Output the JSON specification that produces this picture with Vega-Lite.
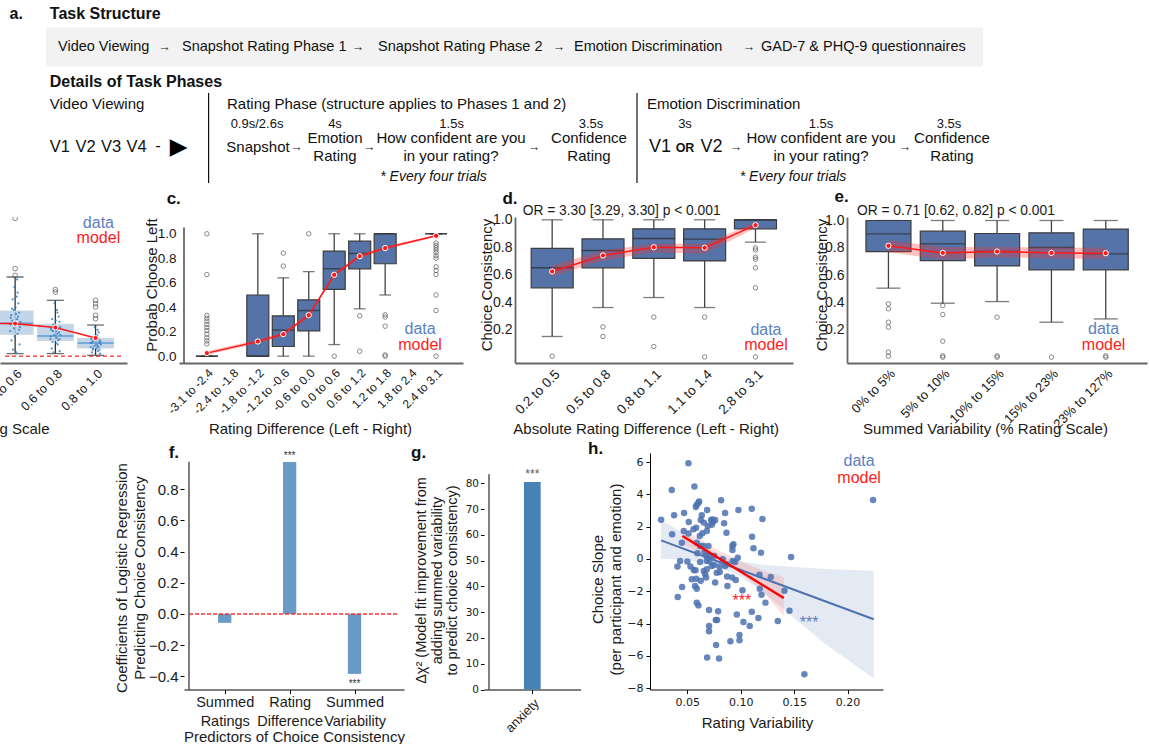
{
"$schema":"https://vega.github.io/schema/vega-lite/v6.json",
"padding":{"left":-36,"top":0,"right":0,"bottom":0},
"background":"white",
"spacing":2,
"config":{"view":{"stroke":null},"font":"Liberation Sans","axis":{"grid":false,"labelOverlap":false,"labelFont":"Liberation Sans","titleFont":"Liberation Sans","titleFontWeight":"normal","labelColor":"#1a1a1a","titleColor":"#1a1a1a","tickColor":"#000","domainColor":"#000"}},
"datasets":{
"rowA":[
{"k":"box","x":46,"x2":983,"y":27.5,"y2":66.5},
{"k":"vline","x":208.6,"y":93,"y2":183},{"k":"vline","x":637,"y":93,"y2":183},
{"k":"bold","x":9.6,"y":14,"t":"a."},{"k":"bold","x":49.8,"y":14,"t":"Task Structure"},{"k":"bold","x":49.8,"y":81.5,"t":"Details of Task Phases"},
{"k":"flow","x":58,"y":47,"t":"Video Viewing"},{"k":"flow","x":182,"y":47,"t":"Snapshot Rating Phase 1"},{"k":"flow","x":378,"y":47,"t":"Snapshot Rating Phase 2"},{"k":"flow","x":574,"y":47,"t":"Emotion Discrimination"},{"k":"flow","x":761,"y":47,"t":"GAD-7 & PHQ-9 questionnaires"},
{"k":"arrow","x":164.6,"y":47,"t":"→"},{"k":"arrow","x":358,"y":47,"t":"→"},{"k":"arrow","x":559,"y":47,"t":"→"},{"k":"arrow","x":749,"y":47,"t":"→"},
{"k":"arrow","x":296.6,"y":147,"t":"→"},{"k":"arrow","x":369.3,"y":147,"t":"→"},{"k":"arrow","x":534,"y":147,"t":"→"},{"k":"arrow","x":736,"y":147,"t":"→"},{"k":"arrow","x":905,"y":147,"t":"→"},
{"k":"sec","x":49.8,"y":104,"t":"Video Viewing"},{"k":"sec","x":227,"y":104,"t":"Rating Phase (structure applies to Phases 1 and 2)"},{"k":"sec","x":647,"y":104,"t":"Emotion Discrimination"},
{"k":"time","x":257,"y":123.5,"t":"0.9s/2.6s"},{"k":"time","x":335,"y":123.5,"t":"4s"},{"k":"time","x":451.6,"y":123.5,"t":"1.5s"},{"k":"time","x":591,"y":123.5,"t":"3.5s"},{"k":"time","x":685,"y":123.5,"t":"3s"},{"k":"time","x":821,"y":123.5,"t":"1.5s"},{"k":"time","x":949,"y":123.5,"t":"3.5s"},
{"k":"big","x":258,"y":147,"t":"Snapshot"},{"k":"big","x":335,"y":137.5,"t":"Emotion"},{"k":"big","x":335,"y":156,"t":"Rating"},{"k":"big","x":451,"y":137.5,"t":"How confident are you"},{"k":"big","x":451,"y":156,"t":"in your rating?"},{"k":"big","x":589,"y":137.5,"t":"Confidence"},{"k":"big","x":589,"y":156,"t":"Rating"},{"k":"big","x":821,"y":137.5,"t":"How confident are you"},{"k":"big","x":821,"y":156,"t":"in your rating?"},{"k":"big","x":952,"y":137.5,"t":"Confidence"},{"k":"big","x":952,"y":156,"t":"Rating"},
{"k":"v","x":59.8,"y":147,"t":"V1"},{"k":"v","x":85.5,"y":147,"t":"V2"},{"k":"v","x":111,"y":147,"t":"V3"},{"k":"v","x":136.5,"y":147,"t":"V4"},{"k":"v","x":158,"y":146,"t":"-"},
{"k":"vb","x":660,"y":147,"t":"V1"},{"k":"vb","x":711.5,"y":147,"t":"V2"},{"k":"or","x":685,"y":148,"t":"OR"},
{"k":"tri","x":178.5,"y":147,"t":"▶"},
{"k":"note","x":433.5,"y":177,"t":"* Every four trials"},{"k":"note","x":793,"y":177,"t":"* Every four trials"}
],
"b_box":[{"i":0,"q1":0.166,"med":0.25,"q3":0.342,"lo":0.021,"hi":0.598},{"i":1,"q1":0.119,"med":0.153,"q3":0.242,"lo":0.021,"hi":0.422},{"i":2,"q1":0.063,"med":0.101,"q3":0.136,"lo":0.008,"hi":0.236}],
"b_out":[{"i":0,"v":1.04},{"i":0,"v":0.661},{"i":0,"v":0.61},{"i":1,"v":0.503},{"i":1,"v":0.485},{"i":2,"v":0.422},{"i":2,"v":0.397},{"i":2,"v":0.372},{"i":2,"v":0.309},{"i":2,"v":0.284}],
"b_model":[{"i":-1,"m":0.25},{"i":0,"m":0.247},{"i":1,"m":0.217},{"i":2,"m":0.138}],
"b_dots":[
{"i":-0.10,"v":0.31},{"i":0.05,"v":0.28},{"i":0.12,"v":0.22},{"i":-0.04,"v":0.35},{"i":0.08,"v":0.40},{"i":-0.12,"v":0.19},{"i":0.02,"v":0.25},{"i":0.10,"v":0.33},{"i":-0.07,"v":0.27},{"i":0.04,"v":0.45},{"i":-0.02,"v":0.52},{"i":0.06,"v":0.17},{"i":-0.09,"v":0.12},{"i":0.11,"v":0.09},{"i":-0.05,"v":0.05},{"i":0.03,"v":0.03},{"i":0.09,"v":0.24},{"i":-0.11,"v":0.29},{"i":0.01,"v":0.37},{"i":-0.03,"v":0.21},{"i":0.07,"v":0.30},{"i":-0.08,"v":0.36},{"i":0.13,"v":0.26},{"i":-0.01,"v":0.15},{"i":0.05,"v":0.58},{"i":-0.06,"v":0.43},{"i":0.02,"v":0.32},{"i":0.10,"v":0.20},{"i":-0.12,"v":0.24},{"i":0.06,"v":0.48},
{"i":0.90,"v":0.20},{"i":1.05,"v":0.17},{"i":1.10,"v":0.13},{"i":0.95,"v":0.24},{"i":1.08,"v":0.30},{"i":0.88,"v":0.15},{"i":1.02,"v":0.19},{"i":1.12,"v":0.22},{"i":0.93,"v":0.11},{"i":1.04,"v":0.35},{"i":0.98,"v":0.40},{"i":1.06,"v":0.09},{"i":0.91,"v":0.06},{"i":1.11,"v":0.04},{"i":0.95,"v":0.03},{"i":1.03,"v":0.14},{"i":1.09,"v":0.18},{"i":0.89,"v":0.21},{"i":1.01,"v":0.27},{"i":0.97,"v":0.16},{"i":1.07,"v":0.12},{"i":0.92,"v":0.28},{"i":1.13,"v":0.16},{"i":0.99,"v":0.23},{"i":1.05,"v":0.33},{"i":0.94,"v":0.19},{"i":1.02,"v":0.10},{"i":1.10,"v":0.26},{"i":0.88,"v":0.13},{"i":1.06,"v":0.21},
{"i":1.90,"v":0.10},{"i":2.05,"v":0.08},{"i":2.10,"v":0.12},{"i":1.95,"v":0.14},{"i":2.08,"v":0.18},{"i":1.88,"v":0.07},{"i":2.02,"v":0.09},{"i":2.12,"v":0.11},{"i":1.93,"v":0.05},{"i":2.04,"v":0.16},{"i":1.98,"v":0.22},{"i":2.06,"v":0.04},{"i":1.91,"v":0.03},{"i":2.11,"v":0.02},{"i":1.95,"v":0.12},{"i":2.03,"v":0.06},{"i":2.09,"v":0.10},{"i":1.89,"v":0.13},{"i":2.01,"v":0.15},{"i":1.97,"v":0.08},{"i":2.07,"v":0.07},{"i":1.92,"v":0.11},{"i":2.13,"v":0.09},{"i":1.99,"v":0.13},{"i":2.05,"v":0.20},{"i":1.94,"v":0.06},{"i":2.02,"v":0.12},{"i":2.10,"v":0.05},{"i":1.88,"v":0.10},{"i":2.06,"v":0.14}],
"c_box":[{"i":0,"q1":0,"med":0,"q3":0,"lo":0,"hi":0},{"i":2,"q1":0,"med":0,"q3":0.5,"lo":0,"hi":1.0},{"i":3,"q1":0.079,"med":0.213,"q3":0.33,"lo":0,"hi":0.64},{"i":4,"q1":0.207,"med":0.373,"q3":0.46,"lo":0,"hi":0.69},{"i":5,"q1":0.545,"med":0.714,"q3":0.858,"lo":0.095,"hi":1.0},{"i":6,"q1":0.714,"med":0.839,"q3":0.94,"lo":0.387,"hi":1.0},{"i":7,"q1":0.755,"med":1.0,"q3":1.0,"lo":0.5,"hi":1.0},{"i":9,"q1":1.0,"med":1.0,"q3":1.0,"lo":1.0,"hi":1.0}],
"c_out":[{"i":0,"v":1.0},{"i":0,"v":0.667},{"i":0,"v":0.333},{"i":0,"v":0.31},{"i":0,"v":0.286},{"i":0,"v":0.26},{"i":0,"v":0.235},{"i":0,"v":0.21},{"i":0,"v":0.18},{"i":0,"v":0.15},{"i":0,"v":0.125},{"i":0,"v":0.1},{"i":3,"v":0.736},{"i":3,"v":0.842},{"i":4,"v":1.0},{"i":5,"v":0.0},{"i":6,"v":0.33},{"i":6,"v":0.04},{"i":7,"v":0.338},{"i":7,"v":0.32},{"i":7,"v":0.245},{"i":7,"v":0.01},{"i":7,"v":0.0},{"i":9,"v":0.924},{"i":9,"v":0.905},{"i":9,"v":0.886},{"i":9,"v":0.867},{"i":9,"v":0.846},{"i":9,"v":0.82},{"i":9,"v":0.8},{"i":9,"v":0.73},{"i":9,"v":0.70},{"i":9,"v":0.667},{"i":9,"v":0.5},{"i":9,"v":0.373},{"i":9,"v":0.0}],
"c_model":[{"i":0,"m":0.025,"lo":0.012,"hi":0.04},{"i":2,"m":0.12,"lo":0.105,"hi":0.135},{"i":3,"m":0.18,"lo":0.165,"hi":0.195},{"i":4,"m":0.335,"lo":0.32,"hi":0.35},{"i":5,"m":0.665,"lo":0.65,"hi":0.68},{"i":6,"m":0.817,"lo":0.803,"hi":0.831},{"i":7,"m":0.883,"lo":0.87,"hi":0.896},{"i":9,"m":0.984,"lo":0.975,"hi":0.993}],
"d_box":[{"i":0,"q1":0.504,"med":0.65,"q3":0.791,"lo":0.149,"hi":1.0},{"i":1,"q1":0.65,"med":0.776,"q3":0.861,"lo":0.36,"hi":1.0},{"i":2,"q1":0.718,"med":0.864,"q3":0.934,"lo":0.433,"hi":1.0},{"i":3,"q1":0.70,"med":0.859,"q3":0.934,"lo":0.36,"hi":1.0},{"i":4,"q1":0.934,"med":1.0,"q3":1.0,"lo":0.837,"hi":1.0}],
"d_out":[{"i":0,"v":0.005},{"i":1,"v":0.219},{"i":1,"v":0.149},{"i":2,"v":0.29},{"i":2,"v":0.076},{"i":3,"v":0.29},{"i":3,"v":0.0},{"i":4,"v":0.795},{"i":4,"v":0.78},{"i":4,"v":0.727},{"i":4,"v":0.712},{"i":4,"v":0.65},{"i":4,"v":0.504},{"i":4,"v":0.0}],
"d_model":[{"i":0,"m":0.623,"lo":0.586,"hi":0.666},{"i":1,"m":0.74,"lo":0.703,"hi":0.776},{"i":2,"m":0.80,"lo":0.764,"hi":0.825},{"i":3,"m":0.796,"lo":0.752,"hi":0.825},{"i":4,"m":0.961,"lo":0.94,"hi":0.98}],
"e_box":[{"i":0,"q1":0.773,"med":0.902,"q3":1.0,"lo":0.505,"hi":1.0},{"i":1,"q1":0.707,"med":0.829,"q3":0.922,"lo":0.395,"hi":1.0},{"i":2,"q1":0.668,"med":0.773,"q3":0.905,"lo":0.407,"hi":1.0},{"i":3,"q1":0.639,"med":0.802,"q3":0.91,"lo":0.256,"hi":1.0},{"i":4,"q1":0.639,"med":0.756,"q3":0.937,"lo":0.28,"hi":1.0}],
"e_out":[{"i":0,"v":0.39},{"i":0,"v":0.354},{"i":0,"v":0.256},{"i":0,"v":0.22},{"i":0,"v":0.037},{"i":0,"v":0.007},{"i":1,"v":0.378},{"i":1,"v":0.312},{"i":1,"v":0.117},{"i":1,"v":0.0},{"i":1,"v":0.01},{"i":2,"v":0.293},{"i":2,"v":0.0},{"i":2,"v":0.01},{"i":3,"v":0.0},{"i":4,"v":0.0},{"i":4,"v":0.01}],
"e_model":[{"i":0,"m":0.815,"lo":0.768,"hi":0.856},{"i":1,"m":0.763,"lo":0.712,"hi":0.805},{"i":2,"m":0.773,"lo":0.732,"hi":0.806},{"i":3,"m":0.763,"lo":0.722,"hi":0.802},{"i":4,"m":0.761,"lo":0.718,"hi":0.80}],
"h_pts":[{"x":0.0254,"y":2.43},{"x":0.0354,"y":4.27},{"x":0.051,"y":5.92},{"x":0.0566,"y":4.49},{"x":0.0376,"y":2.70},{"x":0.0357,"y":1.53},{"x":0.0469,"y":2.85},{"x":0.0432,"y":-0.12},{"x":0.0407,"y":-0.47},{"x":0.0451,"y":-1.73},{"x":0.041,"y":-2.35},{"x":0.0448,"y":1.01},{"x":0.0466,"y":1.73},{"x":0.0513,"y":2.29},{"x":0.051,"y":1.57},{"x":0.05,"y":-0.16},{"x":0.0529,"y":-0.47},{"x":0.0541,"y":-1.26},{"x":0.056,"y":-0.68},{"x":0.0579,"y":3.22},{"x":0.0588,"y":3.36},{"x":0.0604,"y":3.48},{"x":0.061,"y":3.55},{"x":0.0582,"y":1.94},{"x":0.0588,"y":1.01},{"x":0.0594,"y":0.35},{"x":0.0576,"y":-0.70},{"x":0.0582,"y":-1.22},{"x":0.0572,"y":-1.67},{"x":0.0588,"y":-1.84},{"x":0.0588,"y":-2.70},{"x":0.0604,"y":-2.87},{"x":0.0619,"y":-0.19},{"x":0.0616,"y":1.42},{"x":0.0635,"y":2.70},{"x":0.0625,"y":2.41},{"x":0.0641,"y":1.59},{"x":0.0654,"y":-0.74},{"x":0.0666,"y":-0.95},{"x":0.0685,"y":3.03},{"x":0.0682,"y":1.73},{"x":0.0691,"y":2.04},{"x":0.0722,"y":2.41},{"x":0.0741,"y":2.29},{"x":0.0728,"y":2.12},{"x":0.076,"y":2.41},{"x":0.0735,"y":2.45},{"x":0.0697,"y":0.80},{"x":0.0679,"y":0.19},{"x":0.0707,"y":-0.12},{"x":0.0682,"y":-0.64},{"x":0.0675,"y":-1.15},{"x":0.0728,"y":-0.43},{"x":0.075,"y":-0.37},{"x":0.076,"y":-1.46},{"x":0.0816,"y":3.63},{"x":0.0853,"y":2.85},{"x":0.0844,"y":2.21},{"x":0.0866,"y":1.63},{"x":0.0803,"y":-0.80},{"x":0.0831,"y":-0.02},{"x":0.0875,"y":-1.67},{"x":0.0922,"y":0.56},{"x":0.0931,"y":0.91},{"x":0.0925,"y":-0.12},{"x":0.0919,"y":-1.15},{"x":0.0953,"y":-1.30},{"x":0.0972,"y":0.08},{"x":0.0978,"y":3.03},{"x":0.0703,"y":-3.15},{"x":0.0788,"y":-3.24},{"x":0.0766,"y":-3.77},{"x":0.0778,"y":-3.77},{"x":0.0703,"y":-4.14},{"x":0.0703,"y":-4.47},{"x":0.0769,"y":-5.32},{"x":0.0685,"y":-6.10},{"x":0.0797,"y":-6.16},{"x":0.0903,"y":-5.09},{"x":0.0988,"y":-5.03},{"x":0.0988,"y":-4.70},{"x":0.0963,"y":-3.44},{"x":0.1025,"y":-3.90},{"x":0.1084,"y":-4.14},{"x":0.1103,"y":-3.26},{"x":0.1165,"y":-3.65},{"x":0.1016,"y":-1.94},{"x":0.1103,"y":3.11},{"x":0.1203,"y":2.47},{"x":0.1106,"y":1.38},{"x":0.1119,"y":0.66},{"x":0.119,"y":0.39},{"x":0.1175,"y":-0.97},{"x":0.1178,"y":-1.84},{"x":0.1194,"y":-2.21},{"x":0.1231,"y":-2.70},{"x":0.1281,"y":-1.11},{"x":0.1409,"y":-1.96},{"x":0.1347,"y":-3.84},{"x":0.1456,"y":-3.20},{"x":0.1471,"y":0.12},{"x":0.1596,"y":-7.13},{"x":0.2239,"y":3.65},{"x":0.065,"y":0.80},{"x":0.0713,"y":0.19},{"x":0.066,"y":0.43},{"x":0.0619,"y":0.80},{"x":0.075,"y":0.19},{"x":0.08,"y":-0.47},{"x":0.0869,"y":-0.33},{"x":0.0947,"y":-0.19},{"x":0.0922,"y":0.80},{"x":0.0853,"y":-0.43},{"x":0.0775,"y":-0.85},{"x":0.0872,"y":-1.09},{"x":0.0557,"y":1.84},{"x":0.0682,"y":-0.12},{"x":0.0625,"y":-1.34},{"x":0.0654,"y":2.25}],
"h_lines":[{"s":"data","x":0.0254,"y":1.15},{"s":"data","x":0.2245,"y":-3.73},{"s":"model","x":0.0454,"y":1.42},{"s":"model","x":0.1403,"y":-2.41}],
"h_band":[{"s":"data","x":0.0254,"lo":0.02,"hi":2.41},{"s":"data","x":0.05,"lo":-0.05,"hi":1.45},{"s":"data","x":0.07,"lo":-0.35,"hi":0.62},{"s":"data","x":0.09,"lo":-0.8,"hi":0.0},{"s":"data","x":0.10,"lo":-1.1,"hi":-0.15},{"s":"data","x":0.12,"lo":-2.0,"hi":-0.35},{"s":"data","x":0.15,"lo":-3.65,"hi":-0.5},{"s":"data","x":0.18,"lo":-5.3,"hi":-0.62},{"s":"data","x":0.2245,"lo":-7.38,"hi":-0.74},
{"s":"model","x":0.0454,"lo":0.95,"hi":1.95},{"s":"model","x":0.07,"lo":0.1,"hi":0.85},{"s":"model","x":0.098,"lo":-0.8,"hi":-0.1},{"s":"model","x":0.12,"lo":-1.95,"hi":-0.7},{"s":"model","x":0.1403,"lo":-3.55,"hi":-1.15}]
},
"vconcat":[
{"width":1149,"height":185.5,"data":{"name":"rowA"},
 "encoding":{"x":{"field":"x","type":"quantitative","scale":{"domain":[0,1149],"nice":false,"zero":false},"axis":null},"y":{"field":"y","type":"quantitative","scale":{"domain":[0,185.5],"nice":false,"zero":false,"reverse":true},"axis":null}},
 "layer":[
  {"transform":[{"filter":"datum.k == 'box'"}],"mark":{"type":"rect","fill":"#f2f2f2"},"encoding":{"x2":{"field":"x2"},"y2":{"field":"y2"}}},
  {"transform":[{"filter":"datum.k == 'vline'"}],"mark":{"type":"rule","color":"#111","strokeWidth":1.2},"encoding":{"y2":{"field":"y2"}}},
  {"transform":[{"filter":"datum.k == 'bold'"}],"mark":{"type":"text","align":"left","baseline":"middle","fontSize":16,"fontWeight":"bold","color":"#111"},"encoding":{"text":{"field":"t"}}},
  {"transform":[{"filter":"datum.k == 'flow'"}],"mark":{"type":"text","align":"left","baseline":"middle","fontSize":14.5,"color":"#111"},"encoding":{"text":{"field":"t"}}},
  {"transform":[{"filter":"datum.k == 'arrow'"}],"mark":{"type":"text","align":"center","baseline":"middle","fontSize":12.5,"color":"#222"},"encoding":{"text":{"field":"t"}}},
  {"transform":[{"filter":"datum.k == 'sec'"}],"mark":{"type":"text","align":"left","baseline":"middle","fontSize":15,"color":"#111"},"encoding":{"text":{"field":"t"}}},
  {"transform":[{"filter":"datum.k == 'time'"}],"mark":{"type":"text","align":"center","baseline":"middle","fontSize":13,"color":"#111"},"encoding":{"text":{"field":"t"}}},
  {"transform":[{"filter":"datum.k == 'big'"}],"mark":{"type":"text","align":"center","baseline":"middle","fontSize":15,"color":"#111"},"encoding":{"text":{"field":"t"}}},
  {"transform":[{"filter":"datum.k == 'v'"}],"mark":{"type":"text","align":"center","baseline":"middle","fontSize":16.5,"color":"#111"},"encoding":{"text":{"field":"t"}}},
  {"transform":[{"filter":"datum.k == 'vb'"}],"mark":{"type":"text","align":"center","baseline":"middle","fontSize":18,"color":"#111"},"encoding":{"text":{"field":"t"}}},
  {"transform":[{"filter":"datum.k == 'or'"}],"mark":{"type":"text","align":"center","baseline":"middle","fontSize":12.5,"fontWeight":"bold","color":"#111"},"encoding":{"text":{"field":"t"}}},
  {"transform":[{"filter":"datum.k == 'tri'"}],"mark":{"type":"text","align":"center","baseline":"middle","fontSize":23,"font":"DejaVu Sans","color":"#000"},"encoding":{"text":{"field":"t"}}},
  {"transform":[{"filter":"datum.k == 'note'"}],"mark":{"type":"text","align":"center","baseline":"middle","fontSize":14,"fontStyle":"italic","color":"#111"},"encoding":{"text":{"field":"t"}}}
 ]},
{"hconcat":[
 {"width":127,"height":146,
  "encoding":{"x":{"field":"i","type":"quantitative","scale":{"domain":[-0.252,2.657],"nice":false,"zero":false},"axis":{"values":[0,1,2],"labelExpr":"['0.4 to 0.6','0.6 to 0.8','0.8 to 1.0'][datum.value]","labelAngle":-45,"labelOverlap":false,"labelFontSize":12.5,"ticks":false,"domainColor":"#666","domainWidth":2,"labelPadding":4,"title":"Rating Scale","titleFontSize":15,"titleX":-36,"titleAlign":"left","titleY":65.5,"titleBaseline":"middle"}}},
  "layer":[
   {"data":{"values":[{"i":-0.252,"i2":2.657,"v":0}]},"mark":{"type":"rule","color":"#ff4d4d","strokeDash":[4,3],"strokeWidth":1.5},"encoding":{"x2":{"field":"i2"},"y":{"field":"v","type":"quantitative","scale":{"domain":[-0.05,1.05],"nice":false,"zero":false},"axis":null}}},
   {"data":{"name":"b_box"},"mark":{"type":"rule","color":"#333","strokeWidth":1.3,"clip":true},"encoding":{"y":{"field":"lo","type":"quantitative","axis":null},"y2":{"field":"hi"}}},
   {"data":{"name":"b_box"},"mark":{"type":"tick","orient":"horizontal","size":17,"thickness":1.3,"color":"#333","clip":true},"encoding":{"y":{"field":"lo","type":"quantitative","axis":null}}},
   {"data":{"name":"b_box"},"mark":{"type":"tick","orient":"horizontal","size":17,"thickness":1.3,"color":"#333","clip":true},"encoding":{"y":{"field":"hi","type":"quantitative","axis":null}}},
   {"data":{"name":"b_box"},"mark":{"type":"bar","orient":"vertical","width":36,"fill":"#b9cfe5","fillOpacity":0.85,"stroke":"#cfd6de","strokeWidth":1,"clip":true},"encoding":{"y":{"field":"q1","type":"quantitative","axis":null},"y2":{"field":"q3"}}},
   {"data":{"name":"b_dots"},"mark":{"type":"point","filled":true,"size":5,"color":"#2c7bbf","opacity":0.8,"clip":true},"encoding":{"y":{"field":"v","type":"quantitative","axis":null}}},
   {"data":{"name":"b_box"},"mark":{"type":"tick","orient":"horizontal","size":36,"thickness":1.5,"color":"#3b86c8","clip":true},"encoding":{"y":{"field":"med","type":"quantitative","axis":null}}},
   {"data":{"name":"b_out"},"mark":{"type":"point","filled":false,"size":22,"stroke":"#555","strokeWidth":1,"clip":true},"encoding":{"y":{"field":"v","type":"quantitative","axis":null}}},
   {"data":{"name":"b_model"},"mark":{"type":"line","color":"#ff1a1a","strokeWidth":1.6,"clip":true},"encoding":{"y":{"field":"m","type":"quantitative","axis":null}}},
   {"data":{"name":"b_model"},"transform":[{"filter":"datum.i >= 0"}],"mark":{"type":"point","filled":true,"size":26,"color":"#ff1a1a","stroke":"white","strokeWidth":1,"opacity":1,"clip":true},"encoding":{"y":{"field":"m","type":"quantitative","axis":null}}},
   {"data":{"values":[{"i":2.07,"v":1.005,"t":"data"},{"i":2.07,"v":0.89,"t":"model"}]},"mark":{"type":"text","fontSize":16,"align":"center","baseline":"middle"},"encoding":{"y":{"field":"v","type":"quantitative","axis":null},"text":{"field":"t"},"color":{"field":"t","type":"nominal","scale":{"domain":["data","model"],"range":["#5b7fc2","#ff1a1a"]},"legend":null}}}
  ]},
 {"width":15.5,"height":10,"data":{"values":[{}]},"mark":{"type":"point","opacity":0}},
 {"width":284,"height":146,
  "encoding":{"x":{"field":"i","type":"quantitative","scale":{"domain":[-0.898,9.86],"nice":false,"zero":false},"axis":{"values":[0,1,2,3,4,5,6,7,8,9],"labelExpr":"['-3.1 to -2.4','-2.4 to -1.8','-1.8 to -1.2','-1.2 to -0.6','-0.6 to 0.0','0.0 to 0.6','0.6 to 1.2','1.2 to 1.8','1.8 to 2.4','2.4 to 3.1'][datum.value]","labelAngle":-45,"labelOverlap":false,"labelFontSize":12,"ticks":false,"domainColor":"#666","domainWidth":1.8,"labelPadding":4,"title":"Rating Difference (Left - Right)","titleFontSize":15,"titleX":131,"titleY":65.5,"titleBaseline":"middle"}}},
  "layer":[
   {"data":{"values":[{"i":-0.898,"a":-0.0556,"b":1.051}]},"mark":{"type":"rule","color":"#666","strokeWidth":1.8},"encoding":{"y":{"field":"a","type":"quantitative","scale":{"domain":[-0.0556,1.137],"nice":false,"zero":false},"axis":{"values":[0,0.2,0.4,0.6,0.8,1.0],"format":".1f","labelOverlap":false,"labelFontSize":13.5,"ticks":false,"domain":false,"labelPadding":3,"title":"Probab Choose Left","titleFontSize":15,"titleX":-28,"titleY":67.5,"titleBaseline":"middle"}},"y2":{"field":"b"}}},
   {"data":{"name":"c_box"},"mark":{"type":"rule","color":"#444","strokeWidth":1.3},"encoding":{"y":{"field":"lo","type":"quantitative","axis":{"values":[0,0.2,0.4,0.6,0.8,1.0],"format":".1f","labelOverlap":false,"labelFontSize":13.5,"ticks":false,"domain":false,"labelPadding":3,"title":"Probab Choose Left","titleFontSize":15,"titleX":-28,"titleY":67.5,"titleBaseline":"middle"}},"y2":{"field":"hi"}}},
   {"data":{"name":"c_box"},"mark":{"type":"tick","orient":"horizontal","size":11.7,"thickness":1.3,"color":"#444"},"encoding":{"y":{"field":"lo","type":"quantitative","axis":{"values":[0,0.2,0.4,0.6,0.8,1.0],"format":".1f","labelOverlap":false,"labelFontSize":13.5,"ticks":false,"domain":false,"labelPadding":3,"title":"Probab Choose Left","titleFontSize":15,"titleX":-28,"titleY":67.5,"titleBaseline":"middle"}}}},
   {"data":{"name":"c_box"},"mark":{"type":"tick","orient":"horizontal","size":11.7,"thickness":1.3,"color":"#444"},"encoding":{"y":{"field":"hi","type":"quantitative","axis":{"values":[0,0.2,0.4,0.6,0.8,1.0],"format":".1f","labelOverlap":false,"labelFontSize":13.5,"ticks":false,"domain":false,"labelPadding":3,"title":"Probab Choose Left","titleFontSize":15,"titleX":-28,"titleY":67.5,"titleBaseline":"middle"}}}},
   {"data":{"name":"c_box"},"mark":{"type":"bar","orient":"vertical","width":22,"fill":"#5573a7","stroke":"#3d3d3d","strokeWidth":1.2},"encoding":{"y":{"field":"q1","type":"quantitative","axis":{"values":[0,0.2,0.4,0.6,0.8,1.0],"format":".1f","labelOverlap":false,"labelFontSize":13.5,"ticks":false,"domain":false,"labelPadding":3,"title":"Probab Choose Left","titleFontSize":15,"titleX":-28,"titleY":67.5,"titleBaseline":"middle"}},"y2":{"field":"q3"}}},
   {"data":{"name":"c_box"},"mark":{"type":"tick","orient":"horizontal","size":22,"thickness":1.4,"color":"#2b2b2b"},"encoding":{"y":{"field":"med","type":"quantitative","axis":{"values":[0,0.2,0.4,0.6,0.8,1.0],"format":".1f","labelOverlap":false,"labelFontSize":13.5,"ticks":false,"domain":false,"labelPadding":3,"title":"Probab Choose Left","titleFontSize":15,"titleX":-28,"titleY":67.5,"titleBaseline":"middle"}}}},
   {"data":{"name":"c_out"},"mark":{"type":"point","filled":false,"size":20,"stroke":"#555","strokeWidth":1},"encoding":{"y":{"field":"v","type":"quantitative","axis":{"values":[0,0.2,0.4,0.6,0.8,1.0],"format":".1f","labelOverlap":false,"labelFontSize":13.5,"ticks":false,"domain":false,"labelPadding":3,"title":"Probab Choose Left","titleFontSize":15,"titleX":-28,"titleY":67.5,"titleBaseline":"middle"}}}},
   {"data":{"name":"c_model"},"mark":{"type":"area","color":"#ff3030","opacity":0.3},"encoding":{"y":{"field":"lo","type":"quantitative","axis":{"values":[0,0.2,0.4,0.6,0.8,1.0],"format":".1f","labelOverlap":false,"labelFontSize":13.5,"ticks":false,"domain":false,"labelPadding":3,"title":"Probab Choose Left","titleFontSize":15,"titleX":-28,"titleY":67.5,"titleBaseline":"middle"}},"y2":{"field":"hi"}}},
   {"data":{"name":"c_model"},"mark":{"type":"line","color":"#ff1a1a","strokeWidth":1.5},"encoding":{"y":{"field":"m","type":"quantitative","axis":{"values":[0,0.2,0.4,0.6,0.8,1.0],"format":".1f","labelOverlap":false,"labelFontSize":13.5,"ticks":false,"domain":false,"labelPadding":3,"title":"Probab Choose Left","titleFontSize":15,"titleX":-28,"titleY":67.5,"titleBaseline":"middle"}}}},
   {"data":{"name":"c_model"},"mark":{"type":"point","filled":true,"size":28,"color":"#ff1a1a","stroke":"white","strokeWidth":1,"opacity":1},"encoding":{"y":{"field":"m","type":"quantitative","axis":{"values":[0,0.2,0.4,0.6,0.8,1.0],"format":".1f","labelOverlap":false,"labelFontSize":13.5,"ticks":false,"domain":false,"labelPadding":3,"title":"Probab Choose Left","titleFontSize":15,"titleX":-28,"titleY":67.5,"titleBaseline":"middle"}}}},
   {"data":{"values":[{"i":8.37,"v":0.221,"t":"data"},{"i":8.37,"v":0.091,"t":"model"}]},"mark":{"type":"text","fontSize":16,"align":"center","baseline":"middle"},"encoding":{"y":{"field":"v","type":"quantitative","axis":{"values":[0,0.2,0.4,0.6,0.8,1.0],"format":".1f","labelOverlap":false,"labelFontSize":13.5,"ticks":false,"domain":false,"labelPadding":3,"title":"Probab Choose Left","titleFontSize":15,"titleX":-28,"titleY":67.5,"titleBaseline":"middle"}},"text":{"field":"t"},"color":{"field":"t","type":"nominal","scale":{"domain":["data","model"],"range":["#5b7fc2","#ff1a1a"]},"legend":null}}},
   {"data":{"values":[{"i":-1.58,"v":1.288,"t":"c."}]},"mark":{"type":"text","fontSize":17,"fontWeight":"bold","align":"left","baseline":"middle","color":"#111"},"encoding":{"y":{"field":"v","type":"quantitative","axis":{"values":[0,0.2,0.4,0.6,0.8,1.0],"format":".1f","labelOverlap":false,"labelFontSize":13.5,"ticks":false,"domain":false,"labelPadding":3,"title":"Probab Choose Left","titleFontSize":15,"titleX":-28,"titleY":67.5,"titleBaseline":"middle"}},"text":{"field":"t"}}}
  ]},
 {"width":15.5,"height":10,"data":{"values":[{}]},"mark":{"type":"point","opacity":0}},
 {"width":278,"height":146,
  "encoding":{"x":{"field":"i","type":"quantitative","scale":{"domain":[-0.633,4.64],"nice":false,"zero":false},"axis":{"values":[0,1,2,3,4],"labelExpr":"['0.2 to 0.5','0.5 to 0.8','0.8 to 1.1','1.1 to 1.4','2.8 to 3.1'][datum.value]","labelAngle":-45,"labelOverlap":false,"labelFontSize":13.5,"ticks":false,"domainColor":"#666","domainWidth":1.8,"labelPadding":4,"title":"Absolute Rating Difference (Left - Right)","titleFontSize":15,"titleX":130.7,"titleY":65.5,"titleBaseline":"middle"}}},
  "layer":[
   {"data":{"name":"d_box"},"mark":{"type":"rule","color":"#444","strokeWidth":1.3},"encoding":{"y":{"field":"lo","type":"quantitative","scale":{"domain":[-0.0445,1.0204],"nice":false,"zero":false},"axis":{"values":[0.2,0.4,0.6,0.8,1.0],"format":".1f","labelOverlap":false,"labelFontSize":14,"ticks":false,"domainColor":"#666","domainWidth":1.8,"labelPadding":3,"title":"Choice Consistency","titleFontSize":15,"titleX":-28.3,"titleY":67.5,"titleBaseline":"middle"}},"y2":{"field":"hi"}}},
   {"data":{"name":"d_box"},"mark":{"type":"tick","orient":"horizontal","size":21,"thickness":1.3,"color":"#444"},"encoding":{"y":{"field":"lo","type":"quantitative","axis":{"values":[0.2,0.4,0.6,0.8,1.0],"format":".1f","labelOverlap":false,"labelFontSize":14,"ticks":false,"domainColor":"#666","domainWidth":1.8,"labelPadding":3,"title":"Choice Consistency","titleFontSize":15,"titleX":-28.3,"titleY":67.5,"titleBaseline":"middle"}}}},
   {"data":{"name":"d_box"},"mark":{"type":"tick","orient":"horizontal","size":21,"thickness":1.3,"color":"#444"},"encoding":{"y":{"field":"hi","type":"quantitative","axis":{"values":[0.2,0.4,0.6,0.8,1.0],"format":".1f","labelOverlap":false,"labelFontSize":14,"ticks":false,"domainColor":"#666","domainWidth":1.8,"labelPadding":3,"title":"Choice Consistency","titleFontSize":15,"titleX":-28.3,"titleY":67.5,"titleBaseline":"middle"}}}},
   {"data":{"name":"d_box"},"mark":{"type":"bar","orient":"vertical","width":42,"fill":"#5573a7","stroke":"#3d3d3d","strokeWidth":1.2},"encoding":{"y":{"field":"q1","type":"quantitative","axis":{"values":[0.2,0.4,0.6,0.8,1.0],"format":".1f","labelOverlap":false,"labelFontSize":14,"ticks":false,"domainColor":"#666","domainWidth":1.8,"labelPadding":3,"title":"Choice Consistency","titleFontSize":15,"titleX":-28.3,"titleY":67.5,"titleBaseline":"middle"}},"y2":{"field":"q3"}}},
   {"data":{"name":"d_box"},"mark":{"type":"tick","orient":"horizontal","size":42,"thickness":1.4,"color":"#2b2b2b"},"encoding":{"y":{"field":"med","type":"quantitative","axis":{"values":[0.2,0.4,0.6,0.8,1.0],"format":".1f","labelOverlap":false,"labelFontSize":14,"ticks":false,"domainColor":"#666","domainWidth":1.8,"labelPadding":3,"title":"Choice Consistency","titleFontSize":15,"titleX":-28.3,"titleY":67.5,"titleBaseline":"middle"}}}},
   {"data":{"name":"d_out"},"mark":{"type":"point","filled":false,"size":20,"stroke":"#555","strokeWidth":1},"encoding":{"y":{"field":"v","type":"quantitative","axis":{"values":[0.2,0.4,0.6,0.8,1.0],"format":".1f","labelOverlap":false,"labelFontSize":14,"ticks":false,"domainColor":"#666","domainWidth":1.8,"labelPadding":3,"title":"Choice Consistency","titleFontSize":15,"titleX":-28.3,"titleY":67.5,"titleBaseline":"middle"}}}},
   {"data":{"name":"d_model"},"mark":{"type":"area","color":"#ff3030","opacity":0.3},"encoding":{"y":{"field":"lo","type":"quantitative","axis":{"values":[0.2,0.4,0.6,0.8,1.0],"format":".1f","labelOverlap":false,"labelFontSize":14,"ticks":false,"domainColor":"#666","domainWidth":1.8,"labelPadding":3,"title":"Choice Consistency","titleFontSize":15,"titleX":-28.3,"titleY":67.5,"titleBaseline":"middle"}},"y2":{"field":"hi"}}},
   {"data":{"name":"d_model"},"mark":{"type":"line","color":"#ff1a1a","strokeWidth":1.5},"encoding":{"y":{"field":"m","type":"quantitative","axis":{"values":[0.2,0.4,0.6,0.8,1.0],"format":".1f","labelOverlap":false,"labelFontSize":14,"ticks":false,"domainColor":"#666","domainWidth":1.8,"labelPadding":3,"title":"Choice Consistency","titleFontSize":15,"titleX":-28.3,"titleY":67.5,"titleBaseline":"middle"}}}},
   {"data":{"name":"d_model"},"mark":{"type":"point","filled":true,"size":28,"color":"#ff1a1a","stroke":"white","strokeWidth":1,"opacity":1},"encoding":{"y":{"field":"m","type":"quantitative","axis":{"values":[0.2,0.4,0.6,0.8,1.0],"format":".1f","labelOverlap":false,"labelFontSize":14,"ticks":false,"domainColor":"#666","domainWidth":1.8,"labelPadding":3,"title":"Choice Consistency","titleFontSize":15,"titleX":-28.3,"titleY":67.5,"titleBaseline":"middle"}}}},
   {"data":{"values":[{"i":4.206,"v":0.197,"t":"data"},{"i":4.206,"v":0.086,"t":"model"}]},"mark":{"type":"text","fontSize":16,"align":"center","baseline":"middle"},"encoding":{"y":{"field":"v","type":"quantitative","axis":{"values":[0.2,0.4,0.6,0.8,1.0],"format":".1f","labelOverlap":false,"labelFontSize":14,"ticks":false,"domainColor":"#666","domainWidth":1.8,"labelPadding":3,"title":"Choice Consistency","titleFontSize":15,"titleX":-28.3,"titleY":67.5,"titleBaseline":"middle"}},"text":{"field":"t"},"color":{"field":"t","type":"nominal","scale":{"domain":["data","model"],"range":["#5b7fc2","#ff1a1a"]},"legend":null}}},
   {"data":{"values":[{"i":-0.58,"v":1.063,"t":"OR = 3.30 [3.29, 3.30]  p < 0.001"}]},"mark":{"type":"text","fontSize":13.8,"align":"left","baseline":"middle","color":"#1a1a1a"},"encoding":{"y":{"field":"v","type":"quantitative","axis":{"values":[0.2,0.4,0.6,0.8,1.0],"format":".1f","labelOverlap":false,"labelFontSize":14,"ticks":false,"domainColor":"#666","domainWidth":1.8,"labelPadding":3,"title":"Choice Consistency","titleFontSize":15,"titleX":-28.3,"titleY":67.5,"titleBaseline":"middle"}},"text":{"field":"t"}}},
   {"data":{"values":[{"i":-0.979,"v":1.155,"t":"d."}]},"mark":{"type":"text","fontSize":17,"fontWeight":"bold","align":"left","baseline":"middle","color":"#111"},"encoding":{"y":{"field":"v","type":"quantitative","axis":{"values":[0.2,0.4,0.6,0.8,1.0],"format":".1f","labelOverlap":false,"labelFontSize":14,"ticks":false,"domainColor":"#666","domainWidth":1.8,"labelPadding":3,"title":"Choice Consistency","titleFontSize":15,"titleX":-28.3,"titleY":67.5,"titleBaseline":"middle"}},"text":{"field":"t"}}}
  ]},
 {"width":19.8,"height":10,"data":{"values":[{}]},"mark":{"type":"point","opacity":0}},
 {"width":300,"height":146,
  "encoding":{"x":{"field":"i","type":"quantitative","scale":{"domain":[-0.671,4.667],"nice":false,"zero":false},"axis":{"values":[0,1,2,3,4],"labelExpr":"['0% to 5%','5% to 10%','10% to 15%','15% to 23%','23% to 127%'][datum.value]","labelAngle":-45,"labelOverlap":false,"labelFontSize":13,"ticks":false,"domainColor":"#666","domainWidth":1.8,"labelPadding":4,"title":"Summed Variability (% Rating Scale)","titleFontSize":15,"titleX":138,"titleY":65.5,"titleBaseline":"middle"}}},
  "layer":[
   {"data":{"name":"e_box"},"mark":{"type":"rule","color":"#444","strokeWidth":1.3},"encoding":{"y":{"field":"lo","type":"quantitative","scale":{"domain":[-0.0424,1.0256],"nice":false,"zero":false},"axis":{"values":[0.2,0.4,0.6,0.8,1.0],"format":".1f","labelOverlap":false,"labelFontSize":14,"ticks":false,"domainColor":"#666","domainWidth":1.8,"labelPadding":3,"title":"Choice Consistency","titleFontSize":15,"titleX":-26,"titleY":67.5,"titleBaseline":"middle"}},"y2":{"field":"hi"}}},
   {"data":{"name":"e_box"},"mark":{"type":"tick","orient":"horizontal","size":24,"thickness":1.3,"color":"#444"},"encoding":{"y":{"field":"lo","type":"quantitative","axis":{"values":[0.2,0.4,0.6,0.8,1.0],"format":".1f","labelOverlap":false,"labelFontSize":14,"ticks":false,"domainColor":"#666","domainWidth":1.8,"labelPadding":3,"title":"Choice Consistency","titleFontSize":15,"titleX":-26,"titleY":67.5,"titleBaseline":"middle"}}}},
   {"data":{"name":"e_box"},"mark":{"type":"tick","orient":"horizontal","size":24,"thickness":1.3,"color":"#444"},"encoding":{"y":{"field":"hi","type":"quantitative","axis":{"values":[0.2,0.4,0.6,0.8,1.0],"format":".1f","labelOverlap":false,"labelFontSize":14,"ticks":false,"domainColor":"#666","domainWidth":1.8,"labelPadding":3,"title":"Choice Consistency","titleFontSize":15,"titleX":-26,"titleY":67.5,"titleBaseline":"middle"}}}},
   {"data":{"name":"e_box"},"mark":{"type":"bar","orient":"vertical","width":45,"fill":"#5573a7","stroke":"#3d3d3d","strokeWidth":1.2},"encoding":{"y":{"field":"q1","type":"quantitative","axis":{"values":[0.2,0.4,0.6,0.8,1.0],"format":".1f","labelOverlap":false,"labelFontSize":14,"ticks":false,"domainColor":"#666","domainWidth":1.8,"labelPadding":3,"title":"Choice Consistency","titleFontSize":15,"titleX":-26,"titleY":67.5,"titleBaseline":"middle"}},"y2":{"field":"q3"}}},
   {"data":{"name":"e_box"},"mark":{"type":"tick","orient":"horizontal","size":45,"thickness":1.4,"color":"#2b2b2b"},"encoding":{"y":{"field":"med","type":"quantitative","axis":{"values":[0.2,0.4,0.6,0.8,1.0],"format":".1f","labelOverlap":false,"labelFontSize":14,"ticks":false,"domainColor":"#666","domainWidth":1.8,"labelPadding":3,"title":"Choice Consistency","titleFontSize":15,"titleX":-26,"titleY":67.5,"titleBaseline":"middle"}}}},
   {"data":{"name":"e_out"},"mark":{"type":"point","filled":false,"size":20,"stroke":"#555","strokeWidth":1},"encoding":{"y":{"field":"v","type":"quantitative","axis":{"values":[0.2,0.4,0.6,0.8,1.0],"format":".1f","labelOverlap":false,"labelFontSize":14,"ticks":false,"domainColor":"#666","domainWidth":1.8,"labelPadding":3,"title":"Choice Consistency","titleFontSize":15,"titleX":-26,"titleY":67.5,"titleBaseline":"middle"}}}},
   {"data":{"name":"e_model"},"mark":{"type":"area","color":"#ff3030","opacity":0.3},"encoding":{"y":{"field":"lo","type":"quantitative","axis":{"values":[0.2,0.4,0.6,0.8,1.0],"format":".1f","labelOverlap":false,"labelFontSize":14,"ticks":false,"domainColor":"#666","domainWidth":1.8,"labelPadding":3,"title":"Choice Consistency","titleFontSize":15,"titleX":-26,"titleY":67.5,"titleBaseline":"middle"}},"y2":{"field":"hi"}}},
   {"data":{"name":"e_model"},"mark":{"type":"line","color":"#ff1a1a","strokeWidth":1.5},"encoding":{"y":{"field":"m","type":"quantitative","axis":{"values":[0.2,0.4,0.6,0.8,1.0],"format":".1f","labelOverlap":false,"labelFontSize":14,"ticks":false,"domainColor":"#666","domainWidth":1.8,"labelPadding":3,"title":"Choice Consistency","titleFontSize":15,"titleX":-26,"titleY":67.5,"titleBaseline":"middle"}}}},
   {"data":{"name":"e_model"},"mark":{"type":"point","filled":true,"size":28,"color":"#ff1a1a","stroke":"white","strokeWidth":1,"opacity":1},"encoding":{"y":{"field":"m","type":"quantitative","axis":{"values":[0.2,0.4,0.6,0.8,1.0],"format":".1f","labelOverlap":false,"labelFontSize":14,"ticks":false,"domainColor":"#666","domainWidth":1.8,"labelPadding":3,"title":"Choice Consistency","titleFontSize":15,"titleX":-26,"titleY":67.5,"titleBaseline":"middle"}}}},
   {"data":{"values":[{"i":3.96,"v":0.204,"t":"data"},{"i":3.96,"v":0.089,"t":"model"}]},"mark":{"type":"text","fontSize":16,"align":"center","baseline":"middle"},"encoding":{"y":{"field":"v","type":"quantitative","axis":{"values":[0.2,0.4,0.6,0.8,1.0],"format":".1f","labelOverlap":false,"labelFontSize":14,"ticks":false,"domainColor":"#666","domainWidth":1.8,"labelPadding":3,"title":"Choice Consistency","titleFontSize":15,"titleX":-26,"titleY":67.5,"titleBaseline":"middle"}},"text":{"field":"t"},"color":{"field":"t","type":"nominal","scale":{"domain":["data","model"],"range":["#5b7fc2","#ff1a1a"]},"legend":null}}},
   {"data":{"values":[{"i":-0.58,"v":1.068,"t":"OR = 0.71 [0.62, 0.82]  p < 0.001"}]},"mark":{"type":"text","fontSize":13.8,"align":"left","baseline":"middle","color":"#1a1a1a"},"encoding":{"y":{"field":"v","type":"quantitative","axis":{"values":[0.2,0.4,0.6,0.8,1.0],"format":".1f","labelOverlap":false,"labelFontSize":14,"ticks":false,"domainColor":"#666","domainWidth":1.8,"labelPadding":3,"title":"Choice Consistency","titleFontSize":15,"titleX":-26,"titleY":67.5,"titleBaseline":"middle"}},"text":{"field":"t"}}},
   {"data":{"values":[{"i":-0.991,"v":1.17,"t":"e."}]},"mark":{"type":"text","fontSize":17,"fontWeight":"bold","align":"left","baseline":"middle","color":"#111"},"encoding":{"y":{"field":"v","type":"quantitative","axis":{"values":[0.2,0.4,0.6,0.8,1.0],"format":".1f","labelOverlap":false,"labelFontSize":14,"ticks":false,"domainColor":"#666","domainWidth":1.8,"labelPadding":3,"title":"Choice Consistency","titleFontSize":15,"titleX":-26,"titleY":67.5,"titleBaseline":"middle"}},"text":{"field":"t"}}}
  ]}
 ],"spacing":0},
{"hconcat":[
 {"width":113.5,"height":10,"data":{"values":[{}]},"mark":{"type":"point","opacity":0}},
 {"width":220,"height":236.5,
  "encoding":{"x":{"field":"i","type":"quantitative","scale":{"domain":[-0.55,2.685],"nice":false,"zero":false},"axis":{"values":[0,1,2],"labelExpr":"[['Summed','Ratings'],['Rating','Difference'],['Summed','Variability']][datum.value]","labelAngle":0,"labelOverlap":false,"labelFontSize":14.5,"labelLineHeight":19,"tickSize":4,"labelPadding":2,"title":"Predictors of Choice Consistency","titleFontSize":15,"titleX":110,"titleY":46.5,"titleBaseline":"middle"}}},
  "layer":[
   {"data":{"values":[{"i":-0.55,"a":-0.485,"b":0.977}]},"mark":{"type":"rule","color":"#000","strokeWidth":1},"encoding":{"y":{"field":"a","type":"quantitative","scale":{"domain":[-0.485,1.033],"nice":false,"zero":false},"axis":{"values":[-0.4,-0.2,0,0.2,0.4,0.6,0.8],"format":".1f","labelOverlap":false,"labelFontSize":15,"tickSize":4,"domain":false,"labelPadding":2,"title":["Coefficients of Logistic Regression","Predicting Choice Consistency"],"titleFontSize":15,"titleLineHeight":18,"titleX":-62.3,"titleY":124.5,"titleBaseline":"middle"}},"y2":{"field":"b"}}},
   {"data":{"values":[{"i":0,"v":-0.057},{"i":1,"v":0.975},{"i":2,"v":-0.385}]},"mark":{"type":"bar","orient":"vertical","width":13.3,"color":"#6a9bc6"},"encoding":{"y":{"field":"v","type":"quantitative","axis":{"values":[-0.4,-0.2,0,0.2,0.4,0.6,0.8],"format":".1f","labelOverlap":false,"labelFontSize":15,"tickSize":4,"domain":false,"labelPadding":2,"title":["Coefficients of Logistic Regression","Predicting Choice Consistency"],"titleFontSize":15,"titleLineHeight":18,"titleX":-62.3,"titleY":124.5,"titleBaseline":"middle"}},"y2":{"datum":0}}},
   {"data":{"values":[{"i":-0.55,"i2":2.685,"v":0}]},"mark":{"type":"rule","color":"#ff2020","strokeDash":[4,2],"strokeWidth":1.5,"opacity":0.9},"encoding":{"x2":{"field":"i2"},"y":{"field":"v","type":"quantitative","axis":{"values":[-0.4,-0.2,0,0.2,0.4,0.6,0.8],"format":".1f","labelOverlap":false,"labelFontSize":15,"tickSize":4,"domain":false,"labelPadding":2,"title":["Coefficients of Logistic Regression","Predicting Choice Consistency"],"titleFontSize":15,"titleLineHeight":18,"titleX":-62.3,"titleY":124.5,"titleBaseline":"middle"}}}},
   {"data":{"values":[{"i":1,"v":1.014,"t":"***"},{"i":2,"v":-0.451,"t":"***"}]},"mark":{"type":"text","fontSize":10,"align":"center","baseline":"middle","color":"#333"},"encoding":{"y":{"field":"v","type":"quantitative","axis":{"values":[-0.4,-0.2,0,0.2,0.4,0.6,0.8],"format":".1f","labelOverlap":false,"labelFontSize":15,"tickSize":4,"domain":false,"labelPadding":2,"title":["Coefficients of Logistic Regression","Predicting Choice Consistency"],"titleFontSize":15,"titleLineHeight":18,"titleX":-62.3,"titleY":124.5,"titleBaseline":"middle"}},"text":{"field":"t"}}},
   {"data":{"values":[{"i":-0.863,"v":1.035,"t":"f."}]},"mark":{"type":"text","fontSize":17,"fontWeight":"bold","align":"left","baseline":"middle","color":"#111"},"encoding":{"y":{"field":"v","type":"quantitative","axis":{"values":[-0.4,-0.2,0,0.2,0.4,0.6,0.8],"format":".1f","labelOverlap":false,"labelFontSize":15,"tickSize":4,"domain":false,"labelPadding":2,"title":["Coefficients of Logistic Regression","Predicting Choice Consistency"],"titleFontSize":15,"titleLineHeight":18,"titleX":-62.3,"titleY":124.5,"titleBaseline":"middle"}},"text":{"field":"t"}}}
  ]},
 {"width":2.2,"height":10,"data":{"values":[{}]},"mark":{"type":"point","opacity":0}},
 {"width":96.6,"height":236.5,
  "encoding":{"x":{"field":"i","type":"quantitative","scale":{"domain":[-1,1],"nice":false,"zero":false},"axis":{"values":[0],"labelExpr":"'anxiety'","labelAngle":-45,"labelOverlap":false,"labelFontSize":13,"tickSize":4,"labelPadding":3,"title":null}}},
  "layer":[
   {"data":{"values":[{"i":-1,"a":0,"b":83.6}]},"mark":{"type":"rule","color":"#000","strokeWidth":1},"encoding":{"y":{"field":"a","type":"quantitative","scale":{"domain":[0,91.8],"nice":false,"zero":false},"axis":{"values":[0,10,20,30,40,50,60,70,80],"labelOverlap":false,"labelFont":"DejaVu Sans","labelFontSize":10.5,"tickSize":3.5,"domain":false,"labelPadding":2,"title":["Δχ² (Model fit improvement from","adding summed variability","to predict choice consistency)"],"titleFontSize":14.5,"titleLineHeight":15.5,"titleX":-62.5,"titleY":127,"titleBaseline":"middle"}},"y2":{"field":"b"}}},
   {"data":{"values":[{"i":0,"v":80.5}]},"mark":{"type":"bar","orient":"vertical","width":16.7,"color":"#4682b4"},"encoding":{"y":{"field":"v","type":"quantitative","axis":{"values":[0,10,20,30,40,50,60,70,80],"labelOverlap":false,"labelFont":"DejaVu Sans","labelFontSize":10.5,"tickSize":3.5,"domain":false,"labelPadding":2,"title":["Δχ² (Model fit improvement from","adding summed variability","to predict choice consistency)"],"titleFontSize":14.5,"titleLineHeight":15.5,"titleX":-62.5,"titleY":127,"titleBaseline":"middle"}},"y2":{"datum":0}}},
   {"data":{"values":[{"i":0,"v":83.6,"t":"***"}]},"mark":{"type":"text","fontSize":12,"align":"center","baseline":"middle","color":"#555"},"encoding":{"y":{"field":"v","type":"quantitative","axis":{"values":[0,10,20,30,40,50,60,70,80],"labelOverlap":false,"labelFont":"DejaVu Sans","labelFontSize":10.5,"tickSize":3.5,"domain":false,"labelPadding":2,"title":["Δχ² (Model fit improvement from","adding summed variability","to predict choice consistency)"],"titleFontSize":14.5,"titleLineHeight":15.5,"titleX":-62.5,"titleY":127,"titleBaseline":"middle"}},"text":{"field":"t"}}},
   {"data":{"values":[{"i":-2.8,"v":91.9,"t":"g."}]},"mark":{"type":"text","fontSize":17,"fontWeight":"bold","align":"left","baseline":"middle","color":"#111"},"encoding":{"y":{"field":"v","type":"quantitative","axis":{"values":[0,10,20,30,40,50,60,70,80],"labelOverlap":false,"labelFont":"DejaVu Sans","labelFontSize":10.5,"tickSize":3.5,"domain":false,"labelPadding":2,"title":["Δχ² (Model fit improvement from","adding summed variability","to predict choice consistency)"],"titleFontSize":14.5,"titleLineHeight":15.5,"titleX":-62.5,"titleY":127,"titleBaseline":"middle"}},"text":{"field":"t"}}}
  ]},
 {"width":1.4,"height":10,"data":{"values":[{}]},"mark":{"type":"point","opacity":0}},
 {"width":233,"height":236.5,
  "encoding":{"x":{"field":"x","type":"quantitative","scale":{"domain":[0.015,0.2332],"nice":false,"zero":false},"axis":{"values":[0.05,0.1,0.15,0.2],"format":".2f","labelOverlap":false,"labelFont":"DejaVu Sans","labelFontSize":11,"tickSize":4,"labelPadding":3,"title":"Rating Variability","titleFontSize":15,"titleX":107,"titleY":33.2,"titleBaseline":"middle"}}},
  "layer":[
   {"data":{"name":"h_band"},"transform":[{"filter":"datum.s == 'data'"}],"mark":{"type":"area","color":"#4c72b0","opacity":0.15},"encoding":{"y":{"field":"lo","type":"quantitative","scale":{"domain":[-8.074,6.557],"nice":false,"zero":false},"axis":{"values":[-8,-6,-4,-2,0,2,4,6],"format":"d","labelOverlap":false,"labelFont":"DejaVu Sans","labelFontSize":11,"tickSize":4,"labelPadding":3,"title":["Choice Slope","(per participant and emotion)"],"titleFontSize":15,"titleLineHeight":18,"titleX":-52.5,"titleY":126,"titleBaseline":"middle"}},"y2":{"field":"hi"}}},
   {"data":{"name":"h_band"},"transform":[{"filter":"datum.s == 'model'"}],"mark":{"type":"area","color":"#ff3030","opacity":0.15},"encoding":{"y":{"field":"lo","type":"quantitative","axis":{"values":[-8,-6,-4,-2,0,2,4,6],"format":"d","labelOverlap":false,"labelFont":"DejaVu Sans","labelFontSize":11,"tickSize":4,"labelPadding":3,"title":["Choice Slope","(per participant and emotion)"],"titleFontSize":15,"titleLineHeight":18,"titleX":-52.5,"titleY":126,"titleBaseline":"middle"}},"y2":{"field":"hi"}}},
   {"data":{"name":"h_pts"},"mark":{"type":"circle","color":"#4c72b0","opacity":0.85,"size":42},"encoding":{"y":{"field":"y","type":"quantitative","axis":{"values":[-8,-6,-4,-2,0,2,4,6],"format":"d","labelOverlap":false,"labelFont":"DejaVu Sans","labelFontSize":11,"tickSize":4,"labelPadding":3,"title":["Choice Slope","(per participant and emotion)"],"titleFontSize":15,"titleLineHeight":18,"titleX":-52.5,"titleY":126,"titleBaseline":"middle"}}}},
   {"data":{"name":"h_lines"},"transform":[{"filter":"datum.s == 'data'"}],"mark":{"type":"line","color":"#4c72b0","strokeWidth":2},"encoding":{"y":{"field":"y","type":"quantitative","axis":{"values":[-8,-6,-4,-2,0,2,4,6],"format":"d","labelOverlap":false,"labelFont":"DejaVu Sans","labelFontSize":11,"tickSize":4,"labelPadding":3,"title":["Choice Slope","(per participant and emotion)"],"titleFontSize":15,"titleLineHeight":18,"titleX":-52.5,"titleY":126,"titleBaseline":"middle"}}}},
   {"data":{"name":"h_lines"},"transform":[{"filter":"datum.s == 'model'"}],"mark":{"type":"line","color":"#ff0000","strokeWidth":2.5},"encoding":{"y":{"field":"y","type":"quantitative","axis":{"values":[-8,-6,-4,-2,0,2,4,6],"format":"d","labelOverlap":false,"labelFont":"DejaVu Sans","labelFontSize":11,"tickSize":4,"labelPadding":3,"title":["Choice Slope","(per participant and emotion)"],"titleFontSize":15,"titleLineHeight":18,"titleX":-52.5,"titleY":126,"titleBaseline":"middle"}}}},
   {"data":{"values":[{"x":0.101,"y":-2.6,"t":"***","s":"model"},{"x":0.164,"y":-3.94,"t":"***","s":"data"}]},"mark":{"type":"text","fontSize":16,"align":"center","baseline":"middle"},"encoding":{"y":{"field":"y","type":"quantitative","axis":{"values":[-8,-6,-4,-2,0,2,4,6],"format":"d","labelOverlap":false,"labelFont":"DejaVu Sans","labelFontSize":11,"tickSize":4,"labelPadding":3,"title":["Choice Slope","(per participant and emotion)"],"titleFontSize":15,"titleLineHeight":18,"titleX":-52.5,"titleY":126,"titleBaseline":"middle"}},"text":{"field":"t"},"color":{"field":"s","type":"nominal","scale":{"domain":["data","model"],"range":["#5a78b5","#ff1a1a"]},"legend":null}}},
   {"data":{"values":[{"x":0.2108,"y":6.05,"t":"data"},{"x":0.2108,"y":5.0,"t":"model"}]},"mark":{"type":"text","fontSize":16,"align":"center","baseline":"middle"},"encoding":{"y":{"field":"y","type":"quantitative","axis":{"values":[-8,-6,-4,-2,0,2,4,6],"format":"d","labelOverlap":false,"labelFont":"DejaVu Sans","labelFontSize":11,"tickSize":4,"labelPadding":3,"title":["Choice Slope","(per participant and emotion)"],"titleFontSize":15,"titleLineHeight":18,"titleX":-52.5,"titleY":126,"titleBaseline":"middle"}},"text":{"field":"t"},"color":{"field":"t","type":"nominal","scale":{"domain":["data","model"],"range":["#5b7fc2","#ff1a1a"]},"legend":null}}},
   {"data":{"values":[{"x":-0.043,"y":6.81,"t":"h."}]},"mark":{"type":"text","fontSize":17,"fontWeight":"bold","align":"left","baseline":"middle","color":"#111"},"encoding":{"y":{"field":"y","type":"quantitative","axis":{"values":[-8,-6,-4,-2,0,2,4,6],"format":"d","labelOverlap":false,"labelFont":"DejaVu Sans","labelFontSize":11,"tickSize":4,"labelPadding":3,"title":["Choice Slope","(per participant and emotion)"],"titleFontSize":15,"titleLineHeight":18,"titleX":-52.5,"titleY":126,"titleBaseline":"middle"}},"text":{"field":"t"}}}
  ]}
 ],"spacing":0}
]
}
